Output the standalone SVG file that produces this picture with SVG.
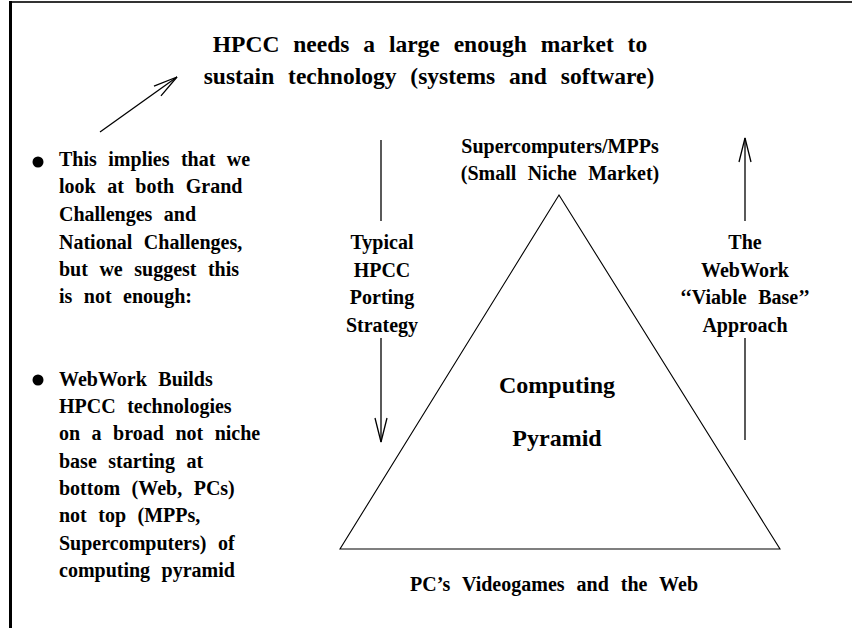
<svg xmlns="http://www.w3.org/2000/svg" width="852" height="628" viewBox="0 0 852 628">
<style>
text{font-family:"Liberation Serif","Times New Roman",serif;font-weight:bold;fill:#000}
.t{font-size:23.5px;word-spacing:8px}
.b{font-size:20px;word-spacing:6.5px}
.c{text-anchor:middle}
.big{font-size:24px}
.ln{stroke:#000;stroke-width:1.3;fill:none}
</style>
<defs>
<marker id="open" viewBox="-26 -8 28 16" markerWidth="28" markerHeight="16" refX="0" refY="0" orient="auto" markerUnits="userSpaceOnUse">
<path d="M-24,-6 L0,0 L-24,6" fill="none" stroke="#000" stroke-width="1.3"/>
</marker>
</defs>
<rect width="852" height="628" fill="#fff"/>
<g id="frame">
<line x1="9" y1="2" x2="852" y2="2" stroke="#333" stroke-width="2"/>
<line x1="10.5" y1="1" x2="10.5" y2="628" stroke="#000" stroke-width="3"/>
</g>
<g id="title">
<text class="t c" x="430" y="52">HPCC needs a large enough market to</text>
<text class="t c" x="429" y="84">sustain technology (systems and software)</text>
</g>
<g id="bullet1">
<circle cx="38" cy="162" r="5.5"/>
<text class="b" x="59" y="166">This implies that we</text>
<text class="b" x="59" y="193">look at both Grand</text>
<text class="b" x="59" y="221">Challenges and</text>
<text class="b" x="59" y="249">National Challenges,</text>
<text class="b" x="59" y="276">but we suggest this</text>
<text class="b" x="59" y="303">is not enough:</text>
</g>
<g id="bullet2">
<circle cx="38" cy="380" r="5.5"/>
<text class="b" x="59" y="386">WebWork Builds</text>
<text class="b" x="59" y="413">HPCC technologies</text>
<text class="b" x="59" y="440">on a broad not niche</text>
<text class="b" x="59" y="468">base starting at</text>
<text class="b" x="59" y="495">bottom (Web, PCs)</text>
<text class="b" x="59" y="522">not top (MPPs,</text>
<text class="b" x="59" y="550">Supercomputers) of</text>
<text class="b" x="59" y="577">computing pyramid</text>
</g>
<g id="pyramid">
<polygon points="559,195 340,549 780,549" fill="none" stroke="#000" stroke-width="1.1"/>
<text class="b c" x="560" y="153">Supercomputers/MPPs</text>
<text class="b c" x="560" y="180">(Small Niche Market)</text>
<text class="big c" x="557" y="393">Computing</text>
<text class="big c" x="557" y="446">Pyramid</text>
<text class="b c" x="554" y="591" style="word-spacing:7px">PC’s Videogames and the Web</text>
</g>
<g id="label-typical">
<text class="b c" x="382" y="249">Typical</text>
<text class="b c" x="382" y="277">HPCC</text>
<text class="b c" x="382" y="304">Porting</text>
<text class="b c" x="382" y="332">Strategy</text>
</g>
<g id="label-webwork">
<text class="b c" x="745" y="249">The</text>
<text class="b c" x="745" y="277">WebWork</text>
<text class="b c" x="745" y="304">‘‘Viable Base’’</text>
<text class="b c" x="745" y="332">Approach</text>
</g>
<g id="connectors">
<line class="ln" x1="100" y1="132" x2="177" y2="77" marker-end="url(#open)"/>
<line class="ln" x1="381" y1="140" x2="381" y2="221"/>
<line class="ln" x1="381" y1="338" x2="381" y2="442" marker-end="url(#open)"/>
<line class="ln" x1="745" y1="221" x2="745" y2="138" marker-end="url(#open)"/>
<line class="ln" x1="745" y1="440" x2="745" y2="338"/>
</g>
</svg>
